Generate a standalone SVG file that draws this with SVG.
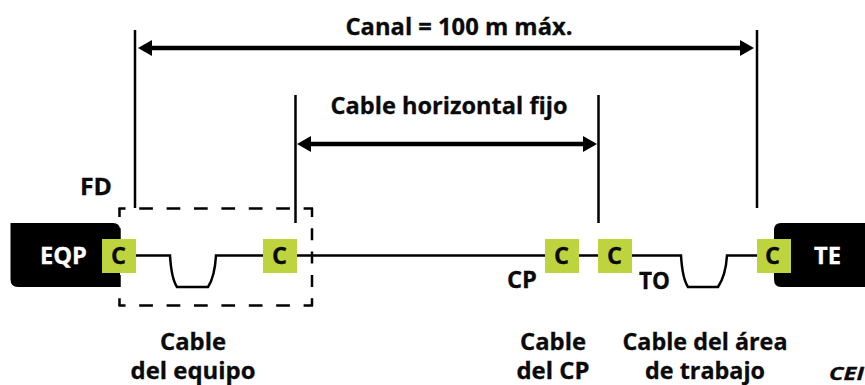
<svg xmlns="http://www.w3.org/2000/svg" width="865" height="385" viewBox="0 0 865 385">
<style>
text{font-family:"Open Sans","Noto Sans","Liberation Sans",sans-serif;font-weight:700;font-size:23px;fill:#0a0a0a;text-anchor:middle;stroke:#0a0a0a;stroke-width:.3px}
.w{fill:#fff;stroke:#fff}
.g{fill:#bdd43f}
.k{fill:#000}
.l{fill:none;stroke:#000;stroke-width:2.500}
.a{fill:none;stroke:#000;stroke-width:4.500}
.h{fill:#000}
.dh{fill:none;stroke:#000;stroke-width:2.500;stroke-dasharray:13.700 13.700;stroke-dashoffset:6.700}
.dv{fill:none;stroke:#000;stroke-width:2.500;stroke-dasharray:12 11.300;stroke-dashoffset:3}
</style>
<g id="connectors">
<path class="l" d="M135 30V208M295.500 95V223M598.500 95V223M757 30V208"/>
<path class="l" d="M136 255.500H170C171 272 173 281 177 287H208C212 281 215 272 216 255.500H263"/>
<path class="l" d="M297 255.500H545M579 255.500H598M632 255.500H681C682 272 684 281 688 287H718C722 281 726 272 727 255.500H757"/>
<path class="a" d="M150 48H742M310 144H584"/>
<path class="h" d="M138 48L152 40V56ZM754 48L740 40V56ZM297 144L311 136V152ZM597 144L583 136V152Z"/>
<path class="dh" d="M118.500 208.500H313M118.500 305.500H313"/>
<path class="dv" d="M119.500 208V306M312 208V306"/>
</g>
<g id="eqp"><path class="k" d="M10.500 223H113Q120 223 120 230V287H18Q10.500 287 10.500 279Z"/><text class="w" x="63.500" y="264" textLength="47" lengthAdjust="spacingAndGlyphs">EQP</text></g>
<g id="te"><path class="k" d="M865 223H781Q774 223 774 230V279Q774 287 781 287H865Z"/><text class="w" x="827.500" y="264" textLength="27" lengthAdjust="spacingAndGlyphs">TE</text></g>
<g id="c1"><rect class="g" x="102" y="239" width="34" height="34"/><text x="118.500" y="264" textLength="15" lengthAdjust="spacingAndGlyphs">C</text></g>
<g id="c2"><rect class="g" x="263" y="239" width="34" height="34"/><text x="279.500" y="264" textLength="15" lengthAdjust="spacingAndGlyphs">C</text></g>
<g id="c3"><rect class="g" x="545" y="239" width="34" height="34"/><text x="561.500" y="264" textLength="15" lengthAdjust="spacingAndGlyphs">C</text></g>
<g id="c4"><rect class="g" x="598" y="239" width="34" height="34"/><text x="614.500" y="264" textLength="15" lengthAdjust="spacingAndGlyphs">C</text></g>
<g id="c5"><rect class="g" x="757" y="239" width="34" height="34"/><text x="772.500" y="264" textLength="15" lengthAdjust="spacingAndGlyphs">C</text></g>
<g id="labels">
<text x="459" y="35" textLength="227" lengthAdjust="spacingAndGlyphs">Canal = 100 m máx.</text>
<text x="449" y="114" textLength="237" lengthAdjust="spacingAndGlyphs">Cable horizontal fijo</text>
<text x="96" y="195" textLength="32" lengthAdjust="spacingAndGlyphs">FD</text>
<text x="522" y="288" textLength="30" lengthAdjust="spacingAndGlyphs">CP</text>
<text x="654.500" y="289" textLength="31" lengthAdjust="spacingAndGlyphs">TO</text>
<text x="193" y="350" textLength="66" lengthAdjust="spacingAndGlyphs">Cable</text>
<text x="193" y="379" textLength="125" lengthAdjust="spacingAndGlyphs">del equipo</text>
<text x="553" y="350" textLength="66" lengthAdjust="spacingAndGlyphs">Cable</text>
<text x="553" y="379" textLength="73" lengthAdjust="spacingAndGlyphs">del CP</text>
<text x="705" y="350" textLength="165" lengthAdjust="spacingAndGlyphs">Cable del área</text>
<text x="705" y="379" textLength="120" lengthAdjust="spacingAndGlyphs">de trabajo</text>
<text x="829" y="379.500" style="text-anchor:start;font-style:italic;font-size:18px" textLength="35" lengthAdjust="spacingAndGlyphs">CEI</text>
</g>
</svg>
